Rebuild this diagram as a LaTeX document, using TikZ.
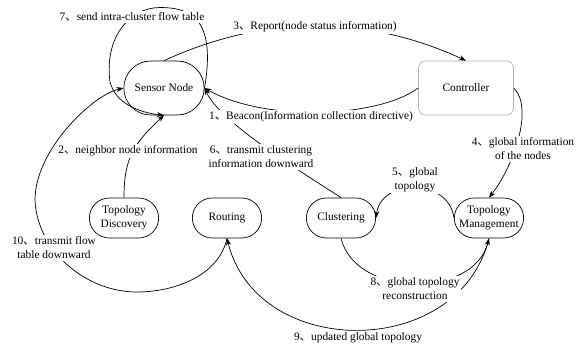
\documentclass[tikz,border=0pt]{standalone}
\usepackage{fontspec}
\setmainfont{Liberation Serif}
\newfontfamily\cjk{Noto Sans CJK SC}
\newcommand{\dunhao}{{\cjk 、}}
\usetikzlibrary{shapes.misc,arrows.meta}

\begin{document}
\begin{tikzpicture}[x=1pt,y=1pt,line width=0.7pt,
  font=\fontsize{11.4}{14}\selectfont,
  >={Stealth[length=7pt,width=5pt]},
  mod/.style={rounded rectangle,draw,minimum width=76pt,minimum height=40pt,align=center},
  lbl/.style={fill=white,inner sep=1.5pt,align=center}]
\useasboundingbox (0,0) rectangle (576,-345);
% modules
\node[mod,minimum width=87pt,minimum height=54pt] (sensor) at (164,-88) {Sensor Node};
\node[draw=gray!60,rounded corners=7pt,minimum width=95pt,minimum height=54pt] (ctrl) at (466,-88) {Controller};
\node[mod] (disc) at (124,-218) {Topology\\Discovery};
\node[mod] (route) at (227,-218) {Routing};
\node[mod] (clus) at (341,-218) {Clustering};
\node[mod] (manage) at (489,-218) {Topology\\Management};
% messages
\draw[->] (ctrl.west) .. controls +(-40,-30) and +(60,-34) .. (sensor.east);
\draw[->] (disc.north) .. controls +(0,40) and +(-30,-28) .. (sensor.south);
\draw[->] (sensor.north) .. controls +(100,46) and +(-100,46) .. (ctrl.north);
\draw[->] (ctrl.east) .. controls +(20,-20) and +(25,32) .. (manage.north);
\draw[->] (manage.west) .. controls +(-5,40) and +(5,40) .. (clus.east);
\draw[->] (clus.north) .. controls +(-51,33) and +(15,-33) .. (sensor.east);
\draw[->] (sensor.east) .. controls +(12,70) and +(30,0) .. (160,-7.5)
  .. controls +(-30,0) and +(-6,45) .. (110,-82)
  .. controls +(6,-22) and +(-25,3) .. (sensor.south);
\draw[->] (clus.south) .. controls +(15,-60) and +(-15,-60) .. (manage.south);
\draw[->] (manage.south) .. controls +(-30,-122) and +(30,-122) .. (route.south);
\draw[->] (route.south) .. controls +(-8,-37) and +(38,0) .. (137,-292)
  .. controls +(-52,0) and +(2,-50) .. (35,-200)
  .. controls +(0,50) and +(-31,-7) .. (sensor.west);
% labels
\node[lbl] (l7) at (132,-17) {7\dunhao send intra-cluster flow table};
\node[lbl] (l3) at (315,-27) {3\dunhao Report(node status information)};
\node[lbl] (l1) at (311,-117) {1\dunhao Beacon(Information collection directive)};
\node[lbl] (l2) at (128,-151) {2\dunhao neighbor node information};
\node[lbl] (l6) at (261,-157) {6\dunhao transmit clustering\\information downward};
\node[lbl] (l4) at (523,-149) {4\dunhao global information\\of the nodes};
\node[lbl] (l5) at (415,-180) {5\dunhao global\\topology};
\node[lbl] (l8) at (415,-289) {8\dunhao global topology\\reconstruction};
\node[lbl] (l9) at (358,-338) {9\dunhao updated global topology};
\node[lbl] (l10) at (54,-248) {10\dunhao transmit flow\\table downward};
\end{tikzpicture}
\end{document}
